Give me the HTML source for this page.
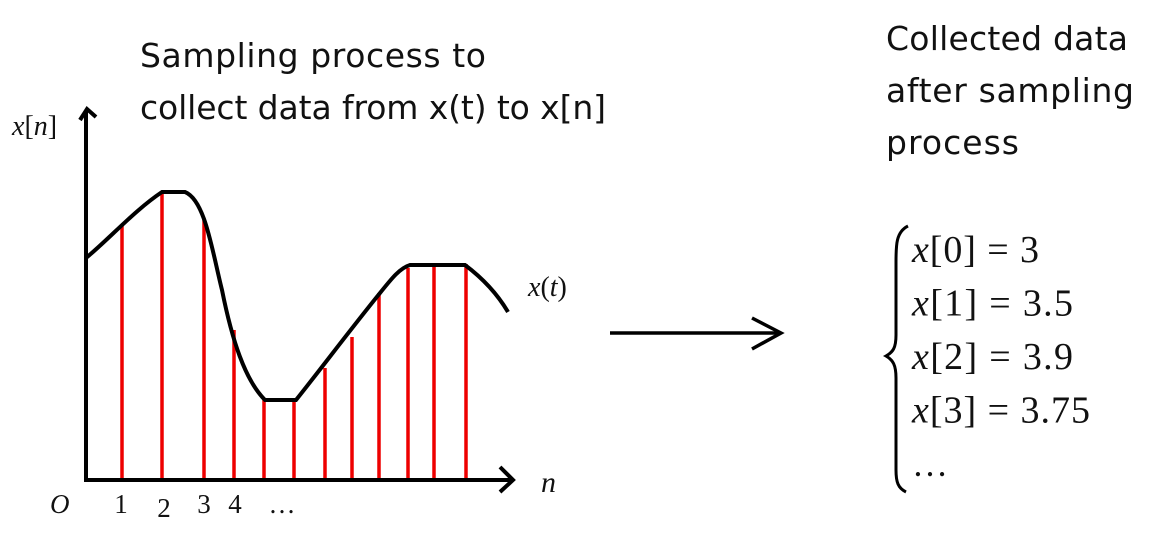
<!DOCTYPE html>
<html><head><meta charset="utf-8"><style>
body{margin:0;background:#fff;width:1154px;height:556px;overflow:hidden}
svg{display:block}
.t{font-family:"DejaVu Sans","Liberation Sans",sans-serif;font-size:33px;fill:#111}
.m{font-family:"Liberation Serif",serif;font-style:italic;fill:#111}
.r{font-family:"Liberation Serif",serif;fill:#111}
.u{font-style:normal}
</style></head><body>
<svg id="chart" width="1154" height="556" viewBox="0 0 1154 556">
<text class="t" x="140" y="67" textLength="346">Sampling process to</text>
<text class="t" x="140" y="119" textLength="466">collect data from x(t) to x[n]</text>
<text class="t" x="886" y="50" textLength="242">Collected data</text>
<text class="t" x="886" y="102" textLength="248">after sampling</text>
<text class="t" x="886" y="154" textLength="133">process</text>
<g id="samples"></g>
<path d="M86,258 C110,238 135,210 162,192 L185,192 C205,200 212,250 222,290 C232,340 245,380 265,400 L296,400 C320,370 350,330 380,293 C392,278 400,268 410,265 L465,265 C485,280 498,295 508,312" fill="none" stroke="#000" stroke-width="4"/>
<line x1="86" y1="480" x2="86" y2="110" stroke="#000" stroke-width="4"/>
<path d="M80,120 L87,109 L96,117" fill="none" stroke="#000" stroke-width="4"/>
<line x1="84" y1="480" x2="512" y2="480" stroke="#000" stroke-width="4"/>
<path d="M500,467 L513,480 L500,492" fill="none" stroke="#000" stroke-width="4"/>
<text class="m" x="12" y="135" font-size="28">x<tspan class="u">[</tspan>n<tspan class="u">]</tspan></text>
<text class="m" x="528" y="296" font-size="28">x<tspan class="u">(</tspan>t<tspan class="u">)</tspan></text>
<text class="m" x="541" y="492" font-size="30">n</text>
<text class="m" x="50" y="513" font-size="27">O</text>
<g id="ticks"></g>
<line x1="610" y1="333" x2="780" y2="333" stroke="#000" stroke-width="3.5"/>
<path d="M752,318 L781,333 L752,349" fill="none" stroke="#000" stroke-width="3.5"/>
<path d="M908,226 C896,232 896,245 896,262 L896,335 C896,348 893,352 886,356 C893,360 896,365 896,378 L896,470 C896,482 898,488 906,492" fill="none" stroke="#000" stroke-width="3"/>
<g id="eqs"></g>
</svg>
<script>
const sampleX = [86,122,162,204,234,264,294,325,352,379,408,434,466];
const sampleValues = [222,255,288,261,150,80,80,112,143,187,212,216,216];
const tickLabels = ["1","2","3","4","\u2026"];
const tickX = [121,164,204,235,282];
const eqIndex = ["0","1","2","3"];
const eqValues = ["3","3.5","3.9","3.75"];
const NS="http://www.w3.org/2000/svg";
const y = v => 480 - v;
const g = document.getElementById('samples');
sampleValues.forEach((v,i)=>{
  const l=document.createElementNS(NS,'line');
  
  
  l.setAttribute('x1',sampleX[i]);l.setAttribute('x2',sampleX[i]);
  l.setAttribute('y1',480);l.setAttribute('y2',y(v));
  l.setAttribute('stroke','#e00');l.setAttribute('stroke-width','3.5');
  g.appendChild(l);
});
const tg=document.getElementById('ticks');
tickLabels.forEach((t,i)=>{
  const e=document.createElementNS(NS,'text');
  
  
  e.setAttribute('class','r');e.setAttribute('font-size','27');
  e.setAttribute('x',tickX[i]);e.setAttribute('y',i==1?517:513);
  e.setAttribute('text-anchor','middle');
  e.textContent=t;tg.appendChild(e);
});
const eg=document.getElementById('eqs');
eqIndex.forEach((t,i)=>{
  const e=document.createElementNS(NS,'text');
  
  
  e.setAttribute('class','m');e.setAttribute('font-size','38');
  e.setAttribute('x',912);e.setAttribute('y',262+i*53.5);
  e.setAttribute('textLength',110+eqValues[i].length*17);
  e.innerHTML='x<tspan class="u">['+t+'] = '+eqValues[i]+'</tspan>';
  eg.appendChild(e);
});
const d=document.createElementNS(NS,'text');


d.setAttribute('class','r');d.setAttribute('font-size','36');
d.setAttribute('x',912);d.setAttribute('y',476);
d.textContent='\u2026';eg.appendChild(d);
</script>
</body></html>
